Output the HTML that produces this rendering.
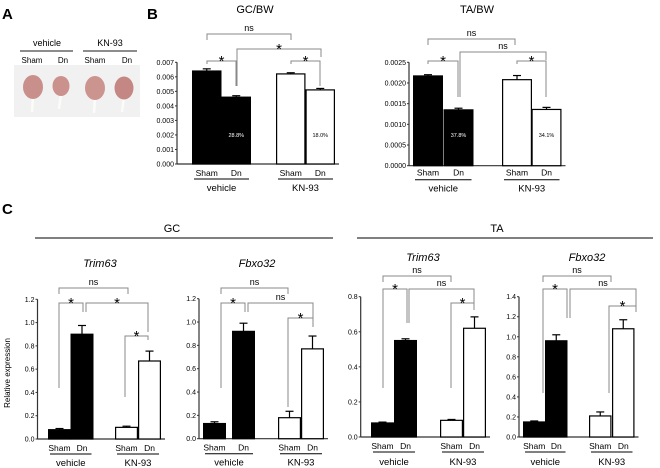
<!DOCTYPE html>
<html><head><meta charset="utf-8"><style>
body{margin:0;background:#fff;}
svg{display:block;font-family:"Liberation Sans",Arial,sans-serif;}
</style></head><body>
<svg id="fig" width="660" height="468" viewBox="0 0 660 468" xmlns="http://www.w3.org/2000/svg">
<g>
<text x="2" y="19" font-size="15" font-weight="bold">A</text>
<text x="47" y="46" font-size="9" text-anchor="middle">vehicle</text>
<line x1="20" y1="51" x2="73" y2="51" stroke="#666" stroke-width="1.5"/>
<text x="110" y="46" font-size="9" text-anchor="middle">KN-93</text>
<line x1="83" y1="51" x2="137" y2="51" stroke="#666" stroke-width="1.5"/>
<text x="32" y="63" font-size="8" text-anchor="middle">Sham</text>
<text x="63" y="63" font-size="8" text-anchor="middle">Dn</text>
<text x="95" y="63" font-size="8" text-anchor="middle">Sham</text>
<text x="127" y="63" font-size="8" text-anchor="middle">Dn</text>
<rect x="14" y="65" width="126" height="52" fill="#f1f1f1"/>
<line x1="33" y1="96" x2="32" y2="112" stroke="#fbfbf8" stroke-width="2.5"/>
<ellipse cx="33" cy="87" rx="10" ry="12" fill="#c98f8a"/>
<line x1="61" y1="94" x2="59" y2="109" stroke="#fbfbf8" stroke-width="2.5"/>
<ellipse cx="61" cy="86" rx="8.5" ry="10" fill="#cb918c"/>
<line x1="95" y1="97" x2="94" y2="113" stroke="#fbfbf8" stroke-width="2.5"/>
<ellipse cx="95" cy="88" rx="10" ry="12" fill="#cc948f"/>
<line x1="124" y1="97" x2="122" y2="112" stroke="#fbfbf8" stroke-width="2.5"/>
<ellipse cx="124" cy="88" rx="9.5" ry="11.5" fill="#c58784"/>
</g>
<text x="147" y="19" font-size="15" font-weight="bold">B</text>
<text x="2" y="214" font-size="15" font-weight="bold">C</text>
<text x="255" y="13" font-size="11" text-anchor="middle">GC/BW</text>
<text x="477" y="13" font-size="11" text-anchor="middle">TA/BW</text>
<line x1="35" y1="238" x2="333" y2="238" stroke="#000" stroke-width="1"/>
<text x="172" y="232" font-size="11" text-anchor="middle">GC</text>
<line x1="357" y1="238" x2="653" y2="238" stroke="#000" stroke-width="1"/>
<text x="497" y="232" font-size="11" text-anchor="middle">TA</text>
<text x="100" y="267" font-size="11" font-style="italic" text-anchor="middle">Trim63</text>
<text x="257" y="267" font-size="11" font-style="italic" text-anchor="middle">Fbxo32</text>
<text x="423" y="261" font-size="11" font-style="italic" text-anchor="middle">Trim63</text>
<text x="587" y="261" font-size="11" font-style="italic" text-anchor="middle">Fbxo32</text>
<text transform="translate(10,373) rotate(-90)" font-size="8" text-anchor="middle">Relative expression</text>
<g id="charts"></g>
</svg>
<script>
const groups=["vehicle","KN-93"];
const conds=["Sham","Dn","Sham","Dn"];
const gcbwVals=[0.0064,0.0046,0.0062,0.0051];
const gcbwErr=[0.00015,0.0001,0.00008,0.0001];
const gcbwTicks=["0.000","0.001","0.002","0.003","0.004","0.005","0.006","0.007"];
const gcbwPct=["28.8%","18.0%"];
const tabwVals=[0.00217,0.00135,0.00208,0.00136];
const tabwErr=[0.00003,0.00004,0.0001,0.00005];
const tabwTicks=["0.0000","0.0005","0.0010","0.0015","0.0020","0.0025"];
const tabwPct=["37.8%","34.1%"];
const gcTrimVals=[0.08,0.90,0.10,0.67];
const gcTrimErr=[0.01,0.075,0.01,0.085];
const gcFbxVals=[0.13,0.92,0.18,0.77];
const gcFbxErr=[0.015,0.07,0.055,0.11];
const taTrimVals=[0.08,0.55,0.095,0.62];
const taTrimErr=[0.005,0.01,0.005,0.065];
const taFbxVals=[0.15,0.96,0.21,1.08];
const taFbxErr=[0.01,0.06,0.04,0.09];
const ticks12=["0.0","0.2","0.4","0.6","0.8","1.0","1.2"];
const ticks08=["0.0","0.2","0.4","0.6","0.8"];
const ticks14=["0.0","0.2","0.4","0.6","0.8","1.0","1.2","1.4"];

const NS="http://www.w3.org/2000/svg";
const root=document.getElementById('charts');
function mk(tag,attrs,parent){const e=document.createElementNS(NS,tag);for(const k in attrs)e.setAttribute(k,attrs[k]);(parent||root).appendChild(e);return e;}
function txt(x,y,s,size,parent,anchor){const t=mk('text',{x:x,y:y,'font-size':size,'text-anchor':anchor||'middle'},parent);t.textContent=s;return t;}

function chart(c){
  const g=mk('g',{});
  
  
  const yMax=parseFloat(c.ticks[c.ticks.length-1]);
  const yS=v=>c.y0-(v/yMax)*(c.y0-c.yTop);
  const right=c.bx[3]+c.bw+4;
  mk('line',{x1:c.ax,y1:c.y0,x2:c.ax,y2:c.yTop,stroke:'#333','stroke-width':1.2},g);
  mk('line',{x1:c.ax,y1:c.y0,x2:right,y2:c.y0,stroke:'#333','stroke-width':1.2},g);
  c.ticks.forEach(t=>{const y=yS(parseFloat(t));
    mk('line',{x1:c.ax-2,y1:y,x2:c.ax,y2:y,stroke:'#333'},g);
    const tl=txt(c.ax-3,y+2.5,t,c.tf||7,g,'end');
    
    
  });
  c.vals.forEach((v,i)=>{
    const x=c.bx[i],yt=yS(v),ye=yS(v+c.err[i]);const cx=x+c.bw/2;
    mk('line',{x1:cx,y1:yt,x2:cx,y2:ye,stroke:'#000','stroke-width':1.2},g);
    mk('line',{x1:cx-4,y1:ye,x2:cx+4,y2:ye,stroke:'#000','stroke-width':1.2},g);
    const r=mk('rect',{x:x+0.6,y:yt,width:c.bw-1.2,height:c.y0-yt,fill:i<2?'#000':'#fff',stroke:'#000','stroke-width':1.2},g);
    
    
    txt(cx,c.y0+c.ly1,conds[i],8.5,g);
  });
  if(c.pct){c.pct.forEach((p,k)=>{const i=k*2+1;const t=txt(c.bx[i]+c.bw/2,c.pctY,p,5.5,g);t.setAttribute('fill',k==0?'#fff':'#000');});}
  for(let k=0;k<2;k++){
    const x1=c.bx[k*2]+2,x2=c.bx[k*2+1]+c.bw-2;
    mk('line',{x1:x1,y1:c.y0+c.ul,x2:x2,y2:c.y0+c.ul,stroke:'#000','stroke-width':1},g);
    const gl=txt((x1+x2)/2,c.y0+c.ly2,groups[k],9.5,g);
    
    
  }
  (c.br||[]).forEach(b=>{
    mk('path',{d:`M${b[0]},${b[3]}V${b[2]}H${b[1]}V${b[4]}`,fill:'none',stroke:'#888','stroke-width':1},g);
    const star=b[5]=='*';
    const s=txt((b[0]+b[1])/2,b[2]+(star?5:-3),b[5],star?15:9,g);
    
    
  });
}
chart({name:'gcbw-chart',ax:177,y0:164,yTop:62.3,ticks:gcbwTicks,vals:gcbwVals,err:gcbwErr,bx:[192,221.5,276,305.5],bw:29.5,ly1:12,ul:15,ly2:27,pct:gcbwPct,pctY:137,
 br:[[207,291,34,40,40,'ns'],[207,236,61,64,86,'*'],[237,321,49,86,57,'*'],[291,320,61,64,86,'*']]});
chart({name:'tabw-chart',ax:409,y0:165.7,yTop:62.3,ticks:tabwTicks,vals:tabwVals,err:tabwErr,bx:[413,443.5,502,531.5],bw:30,ly1:10,ul:14,ly2:26,pct:tabwPct,pctY:137,
 br:[[428,515,39,45,45,'ns'],[428,458,61,64,97,'*'],[460,546,52,97,60,'ns'],[517,546,61,64,97,'*']]});
chart({name:'gc-trim63-chart',ax:37.5,y0:439,yTop:299.3,ticks:ticks12,vals:gcTrimVals,err:gcTrimErr,bx:[48,70.5,115,138],bw:23,ly1:12,ul:15,ly2:27,
 br:[[59,128,288,294,294,'ns'],[59,83,303,388,312,'*'],[86,148,303,312,332,'*'],[125,148,336,397,340,'*']]});
chart({name:'gc-fbxo32-chart',ax:199,y0:438.7,yTop:298.7,ticks:ticks12,vals:gcFbxVals,err:gcFbxErr,bx:[203,232,278,301],bw:23,ly1:12,ul:15,ly2:27,
 br:[[221,288,288,294,294,'ns'],[221,245,303,388,312,'*'],[248,313,303,312,327,'ns'],[288,313,318,407,327,'*']]});
chart({name:'ta-trim63-chart',ax:360.7,y0:437,yTop:296.7,ticks:ticks08,vals:taTrimVals,err:taTrimErr,bx:[371,394,440,463],bw:23,ly1:12,ul:15,ly2:28,
 br:[[383,451,276,282,282,'ns'],[383,407,289,388,323,'*'],[409,474,289,323,310,'ns'],[451,474,303,388,310,'*']]});
chart({name:'ta-fbxo32-chart',ax:519,y0:437,yTop:296.7,ticks:ticks14,vals:taFbxVals,err:taFbxErr,bx:[523,545,589,612],bw:22.5,ly1:12,ul:15,ly2:28,
 br:[[543,611,276,282,282,'ns'],[543,567,289,393,318,'*'],[570,636,289,318,310,'ns'],[609,636,306,393,312,'*']]});
</script>
</body></html>
